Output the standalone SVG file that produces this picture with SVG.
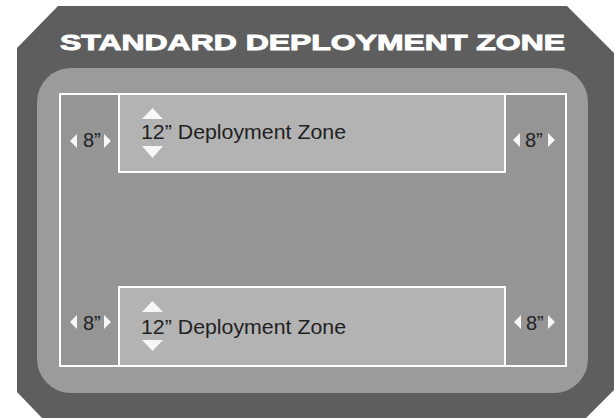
<svg xmlns="http://www.w3.org/2000/svg" width="615" height="418" viewBox="0 0 615 418">
  <style>
    .lbl { font-family: "Liberation Sans", Arial, sans-serif; fill: #222222; }
    .zone { font-size: 21px; }
    .inch { font-size: 20px; }
    .arrow { fill: #f7f7f7; }
    .dbox { fill: #b3b3b3; stroke: #ffffff; stroke-width: 2; }
  </style>
  <rect width="615" height="418" fill="#ffffff"/>
  <g id="board">
    <polygon points="58,6 567,6 614,53 614,390 586,418 42,418 17,392 17,48" fill="#5e5e5e"/>
    <rect x="37" y="68" width="551" height="325" rx="34" fill="#9b9b9b"/>
    <rect x="60" y="94" width="506" height="272" fill="#959595" stroke="#ffffff" stroke-width="2"/>
    <text x="60" y="50" textLength="505" lengthAdjust="spacingAndGlyphs" font-family="Liberation Sans, Arial, sans-serif" font-weight="bold" font-size="21.5" fill="#ffffff" stroke="#ffffff" stroke-width="0.9">STANDARD DEPLOYMENT ZONE</text>
  </g>
  <g id="zone-top">
    <rect class="dbox" x="119" y="94" width="386" height="78"/>
    <polygon class="arrow" points="142,119 152.5,108 163,119"/>
    <polygon class="arrow" points="142,146 163,146 152.5,158"/>
    <text class="lbl zone" x="141" y="139" textLength="205" lengthAdjust="spacingAndGlyphs">12” Deployment Zone</text>
  </g>
  <g id="zone-bottom">
    <rect class="dbox" x="119" y="287" width="386" height="79"/>
    <polygon class="arrow" points="142,312 152.5,301 163,312"/>
    <polygon class="arrow" points="142,340 163,340 152.5,351"/>
    <text class="lbl zone" x="141" y="334" textLength="205" lengthAdjust="spacingAndGlyphs">12” Deployment Zone</text>
  </g>
  <g id="col-top-left">
    <polygon class="arrow" points="77,134 77,148 70,141"/>
    <text class="lbl inch" x="83" y="147">8”</text>
    <polygon class="arrow" points="104,134 104,148 111,141"/>
  </g>
  <g id="col-top-right">
    <polygon class="arrow" points="520,133 520,147 513,140"/>
    <text class="lbl inch" x="525" y="147">8”</text>
    <polygon class="arrow" points="548,133 548,147 555,140"/>
  </g>
  <g id="col-bottom-left">
    <polygon class="arrow" points="77,315 77,329 70,322"/>
    <text class="lbl inch" x="83" y="330">8”</text>
    <polygon class="arrow" points="104,315 104,329 111,322"/>
  </g>
  <g id="col-bottom-right">
    <polygon class="arrow" points="521,315 521,329 514,322"/>
    <text class="lbl inch" x="526" y="330">8”</text>
    <polygon class="arrow" points="548,315 548,329 555,322"/>
  </g>
  <g id="connectors"/>
</svg>
